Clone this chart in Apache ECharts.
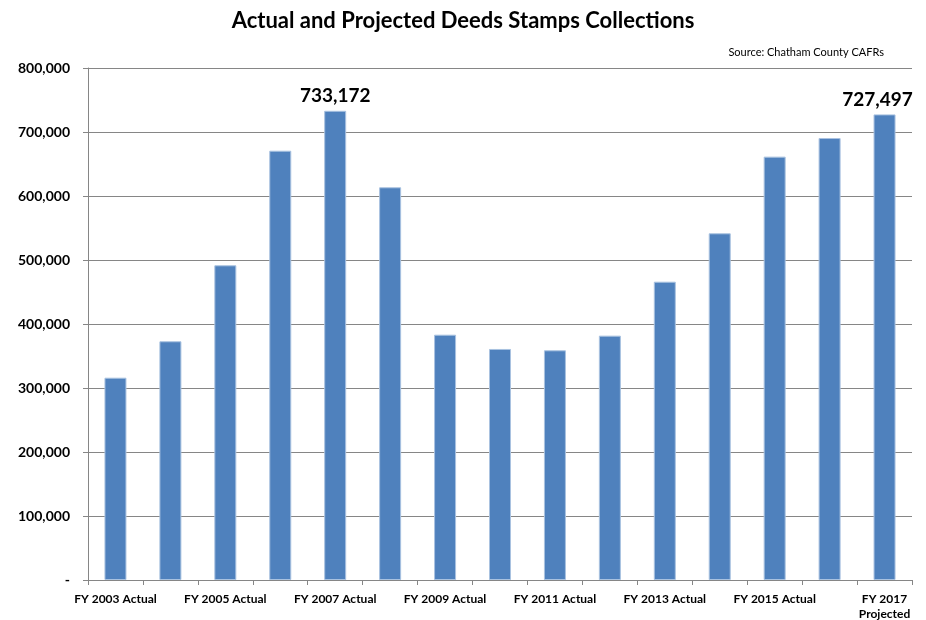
<!DOCTYPE html>
<html>
<head>
<meta charset="utf-8">
<script src="https://cdn.jsdelivr.net/npm/echarts@6/dist/echarts.min.js"></script>
<style>
html,body{margin:0;padding:0;background:#fff;}
#chart{width:926px;height:620px;}
</style>
</head>
<body>
<div id="chart"></div>
<script>
const categories = ["FY 2003 Actual","FY 2004 Actual","FY 2005 Actual","FY 2006 Actual","FY 2007 Actual","FY 2008 Actual","FY 2009 Actual","FY 2010 Actual","FY 2011 Actual","FY 2012 Actual","FY 2013 Actual","FY 2014 Actual","FY 2015 Actual","FY 2016 Actual","FY 2017 Projected"];
const collections = [316100,373000,491700,670800,733172,613600,383300,361000,358900,381800,466100,541700,661500,690600,727497];
const labeledIndices = [4,14];
const yTicks = [0,100000,200000,300000,400000,500000,600000,700000,800000];

const FONT = 'Lato, "Open Sans", sans-serif';
const chart = echarts.init(document.getElementById('chart'), null, {renderer:'canvas'});
chart.setOption({
  animation:false,
  backgroundColor:'#ffffff',
  title:[{
    text:'Actual and Projected Deeds Stamps Collections',
    left:'center', top:5,
    textStyle:{fontFamily:FONT,fontWeight:'bold',fontSize:22,color:'#000'}
  },{
    text:'Source: Chatham County CAFRs',
    right:37, top:42,
    textStyle:{fontFamily:FONT,fontWeight:'normal',fontSize:11,color:'#000'}
  }],
  grid:{left:88,right:14,top:68,bottom:40,containLabel:false,outerBoundsMode:'none'},
  xAxis:{
    type:'category',
    data:categories,
    boundaryGap:true,
    axisLine:{lineStyle:{color:'#868686',width:1}},
    axisTick:{show:true,interval:0,length:5,lineStyle:{color:'#868686'}},
    axisLabel:{
      interval:1,
      margin:12,
      fontFamily:FONT,fontWeight:'bold',fontSize:12,color:'#000',lineHeight:15,
      formatter:v=>v.replace(' Projected','\nProjected')
    }
  },
  yAxis:{
    type:'value',
    min:yTicks[0],max:yTicks[yTicks.length-1],interval:yTicks[1]-yTicks[0],
    axisLine:{show:true,lineStyle:{color:'#868686',width:1}},
    axisTick:{show:true,length:5,lineStyle:{color:'#868686'}},
    splitLine:{show:true,lineStyle:{color:'#868686',width:1}},
    axisLabel:{
      margin:18,
      fontFamily:FONT,fontWeight:'bold',fontSize:14,color:'#000',
      formatter:v=>v===0?'-':v.toLocaleString('en-US')
    }
  },
  series:[{
    type:'bar',
    barWidth:22,
    data:collections.map((v,i)=>({
      value:v,
      label:{show:labeledIndices.includes(i), offset:[i===categories.length-1?-7:0,0]}
    })),
    itemStyle:{color:'#4F81BD',borderColor:'#A9C2E0',borderWidth:1},
    label:{
      position:'top',distance:5,
      fontFamily:FONT,fontWeight:'bold',fontSize:19,color:'#000',
      formatter:p=>p.value.toLocaleString('en-US')
    }
  }]
});
</script>
</body>
</html>
